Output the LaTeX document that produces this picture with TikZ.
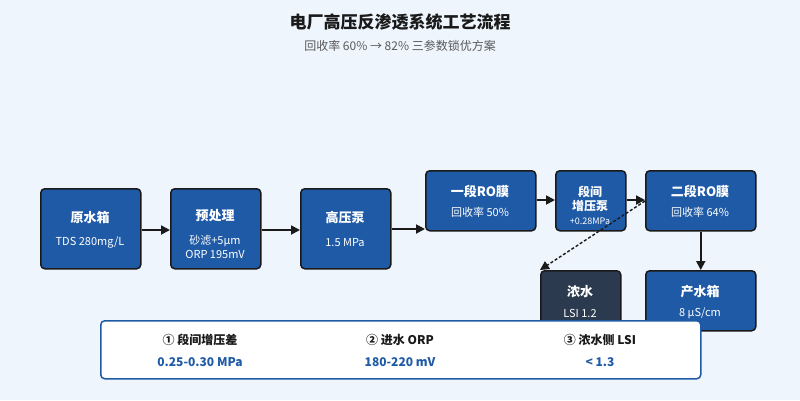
\documentclass[tikz,border=0pt]{standalone}
\usepackage{fontspec}
\setmainfont{Noto Sans CJK SC}
\usetikzlibrary{arrows.meta}
\definecolor{bg}{HTML}{EEF5FD}
\definecolor{bl}{HTML}{1F5AA6}
\definecolor{dk}{HTML}{2B3A4E}
\definecolor{ln}{HTML}{1A1A1A}
\tikzset{
 box/.style={draw=ln,line width=1.5pt,rounded corners=4pt,fill=bl,text=white,align=center,anchor=north west,inner sep=0pt},
 arr/.style={draw=ln,line width=1.8pt,-{Triangle[length=9pt,width=9pt]}},
 t1/.style={font=\fontsize{13}{15}\selectfont\bfseries},
 t2/.style={font=\fontsize{11}{13}\selectfont}
}
\begin{document}
\begin{tikzpicture}[x=1pt,y=-1pt]
\fill[bg] (0,0) rectangle (800,400);
\useasboundingbox (0,0) rectangle (800,400);
\node[font=\fontsize{17}{19}\selectfont\bfseries,text=ln] (title) at (400,22) {电厂高压反渗透系统工艺流程};
\node[font=\fontsize{12}{14}\selectfont,text=black!65] (sub) at (400,46) {回收率 60\% → 82\% 三参数锁优方案};
\newcommand\bx[7]{\node[box,minimum width=#4pt,minimum height=#5pt,#6] (#1) at (#2,#3) {};
 \node[text=white,align=center] at ($(#1.center)$) {#7};}
\node[box,minimum width=100pt,minimum height=80pt] (a) at (40,188) {};
\node[t1,text=white] at (90,218) {原水箱};
\node[t2,text=white] at (90,243) {TDS 280mg/L};
\node[box,minimum width=90pt,minimum height=80pt] (b) at (170,188) {};
\node[t1,text=white] at (215,216) {预处理};
\node[t2,text=white,align=center,font=\fontsize{11}{14}\selectfont] at (215,247) {砂滤+5μm\\ORP 195mV};
\node[box,minimum width=90pt,minimum height=80pt] (c) at (300,188) {};
\node[t1,text=white] at (345,218) {高压泵};
\node[t2,text=white] at (345,243) {1.5 MPa};
\node[box,minimum width=110pt,minimum height=60pt] (d) at (425,170) {};
\node[t1,text=white] at (480,191) {一段RO膜};
\node[t2,text=white] at (480,212) {回收率 50\%};
\node[box,minimum width=70pt,minimum height=60pt] (e) at (555,170) {};
\node[t1,text=white,font=\fontsize{12}{14}\selectfont\bfseries,align=center] at (590,199) {段间\\增压泵};
\node[text=white,font=\fontsize{9}{10}\selectfont] at (590,221) {+0.28MPa};
\node[box,minimum width=110pt,minimum height=60pt] (f) at (645,170) {};
\node[t1,text=white] at (700,191) {二段RO膜};
\node[t2,text=white] at (700,212) {回收率 64\%};
\node[box,fill=dk,minimum width=80pt,minimum height=70pt] (g) at (540,270) {};
\node[t1,text=white] at (580,292) {浓水};
\node[t2,text=white] at (580,313) {LSI 1.2};
\node[box,minimum width=110pt,minimum height=60pt] (h) at (645,270) {};
\node[t1,text=white] at (700,292) {产水箱};
\node[t2,text=white] at (700,313) {8 μS/cm};
\draw[arr] (a.east|-0,230) -- (b.west|-0,230);
\draw[arr] (b.east|-0,230) -- (c.west|-0,230);
\draw[arr] (c.east|-0,229) -- (d.west|-0,229);
\draw[arr] (d.east|-0,200) -- (e.west|-0,200);
\draw[arr] (e.east|-0,200) -- (f.west|-0,200);
\draw[arr] (f.south) -- (h.north);
\draw[arr,line width=1.4pt,dash pattern=on 3pt off 2pt] (f.west|-0,201) -- (g.north west);
\node[draw=bl,line width=1.5pt,fill=white,rounded corners=4pt,minimum width=600pt,minimum height=58pt,anchor=north west] (leg) at (100,320) {};
\foreach \x/\p/\v in {200/{① 段间增压差}/{0.25-0.30 MPa},400/{② 进水 ORP}/{180-220 mV},600/{③ 浓水侧 LSI}/{< 1.3}}{
 \node[font=\fontsize{12}{14}\selectfont\bfseries,text=ln] at (\x,340) {\p};
 \node[font=\fontsize{12}{14}\selectfont\bfseries,text=bl] at (\x,362) {\v};}
\end{tikzpicture}
\end{document}
